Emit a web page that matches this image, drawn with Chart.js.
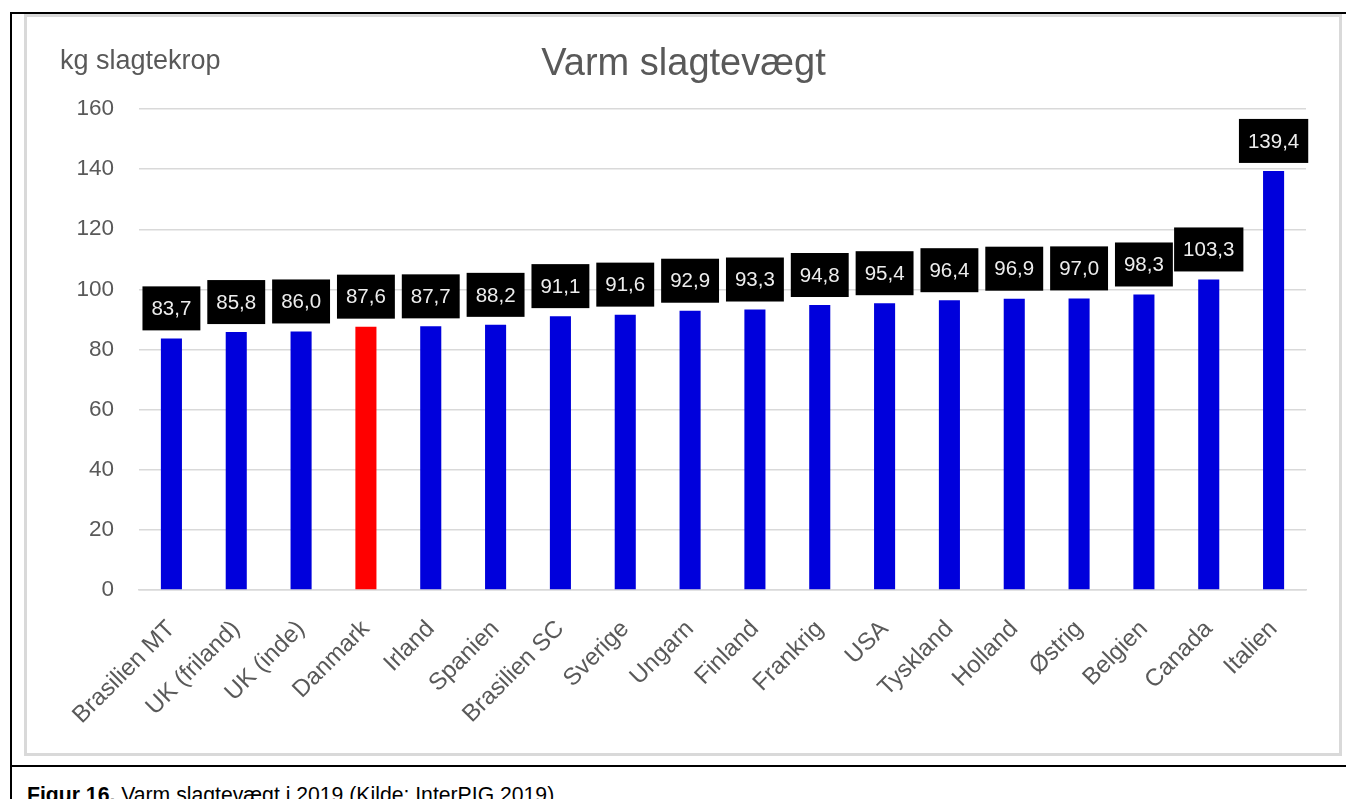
<!DOCTYPE html>
<html>
<head>
<meta charset="utf-8">
<script src="https://cdn.jsdelivr.net/npm/chart.js@4"></script>
<style>
  body { margin: 0; background: #fff; width: 1346px; height: 799px; overflow: hidden; position: relative; font-family: "Liberation Sans", Arial, sans-serif; }
  #outer { position: absolute; left: 10px; top: 12px; width: 1340px; height: 800px; border-left: 2px solid #000; border-top: 2px solid #000; }
  #rule { position: absolute; left: 10px; top: 765px; width: 1340px; height: 2px; background: #000; }
  #box { position: absolute; left: 24px; top: 14px; width: 1318px; height: 742px; box-sizing: border-box; border: 3px solid #d9d9d9; background: #fff; }
  #wrap { position: absolute; left: 0; top: 0; width: 1312px; height: 736px; }
  #caption { position: absolute; left: 27px; top: 783px; font-size: 21.2px; color: #000; white-space: nowrap; }
</style>
</head>
<body>
<div id="outer"></div>
<div id="rule"></div>
<div id="box"><div id="wrap"><canvas id="c16-bar"></canvas></div></div>
<div id="caption"><b>Figur 16.</b> Varm slagtevægt i 2019 (Kilde: InterPIG 2019)</div>
<script>
var labels = [
  "Brasilien MT",
  "UK (friland)",
  "UK (inde)",
  "Danmark",
  "Irland",
  "Spanien",
  "Brasilien SC",
  "Sverige",
  "Ungarn",
  "Finland",
  "Frankrig",
  "USA",
  "Tyskland",
  "Holland",
  "Østrig",
  "Belgien",
  "Canada",
  "Italien",
];
var values = [83.7, 85.8, 86.0, 87.6, 87.7, 88.2, 91.1, 91.6, 92.9, 93.3, 94.8, 95.4, 96.4, 96.9, 97.0, 98.3, 103.3, 139.4];
var highlight = "Danmark";
var yTicks = [0, 20, 40, 60, 80, 100, 120, 140, 160];

var barColors = labels.map(function (l) {
  return l === highlight ? "#FF0000" : "#0000DC";
});

var font = "'Liberation Sans', Arial, sans-serif";

// black boxes with the value above each bar
var valueBoxes = {
  id: "valueBoxes",
  afterDatasetsDraw: function (chart) {
    var ctx = chart.ctx;
    var meta = chart.getDatasetMeta(0);
    ctx.save();
    ctx.font = "20.5px " + font;
    ctx.textAlign = "center";
    ctx.textBaseline = "middle";
    meta.data.forEach(function (bar, i) {
      var txt = values[i].toFixed(1).replace(".", ",");
      var w = ctx.measureText(txt).width + 18;
      var h = 44;
      var bottom = bar.y - 8;
      ctx.fillStyle = "#000";
      ctx.fillRect(bar.x - w / 2, bottom - h, w, h);
      ctx.fillStyle = "#EDEDED";
      ctx.fillText(txt, bar.x, bottom - h / 2 + 1);
    });
    ctx.restore();
  },
};

// axis unit written above the y axis
var unitLabel = {
  id: "unitLabel",
  afterDraw: function (chart) {
    var ctx = chart.ctx;
    ctx.save();
    ctx.font = "27px " + font;
    ctx.fillStyle = "#595959";
    ctx.textAlign = "left";
    ctx.textBaseline = "alphabetic";
    ctx.fillText("kg slagtekrop", 33, 52);
    ctx.restore();
  },
};

var bardata = {
  labels: labels,
  datasets: [
    {
      label: "Varm slagtevægt",
      backgroundColor: barColors,
      data: values,
      barPercentage: 0.325,
      categoryPercentage: 1,
    },
  ],
};

var baroptions = {
  responsive: true,
  maintainAspectRatio: false,
  animation: false,
  layout: { padding: { left: 34, right: 33, top: 0, bottom: 0 } },
  plugins: {
    legend: { display: false },
    tooltip: { enabled: false },
    title: {
      display: true,
      text: "Varm slagtevægt",
      color: "#595959",
      font: { family: font, size: 38, weight: "normal", lineHeight: 1.2 },
      padding: { top: 25, bottom: 21.4 },
    },
  },
  scales: {
    x: {
      grid: { display: false, drawTicks: false },
      border: { display: true, color: "#D9D9D9", width: 1.5 },
      ticks: {
        color: "#595959",
        font: { family: font, size: 24 },
        minRotation: 45,
        maxRotation: 45,
        autoSkip: false,
        padding: 25,
      },
      afterFit: function (scale) {
        scale.height = 163;
      },
    },
    y: {
      min: 0,
      max: 160,
      afterBuildTicks: function (scale) {
        scale.ticks = yTicks.map(function (v) {
          return { value: v };
        });
      },
      grid: { color: "#D9D9D9", lineWidth: 1.5, drawTicks: false },
      border: { display: false },
      ticks: {
        color: "#595959",
        font: { family: font, size: 22.5 },
        padding: 25,
      },
      afterFit: function (scale) {
        scale.width = 78;
      },
    },
  },
};

var barcanvas = document.getElementById("c16-bar");
var myChart = new Chart(barcanvas.getContext("2d"), {
  type: "bar",
  data: bardata,
  options: baroptions,
  plugins: [valueBoxes, unitLabel],
});
</script>
</body>
</html>
